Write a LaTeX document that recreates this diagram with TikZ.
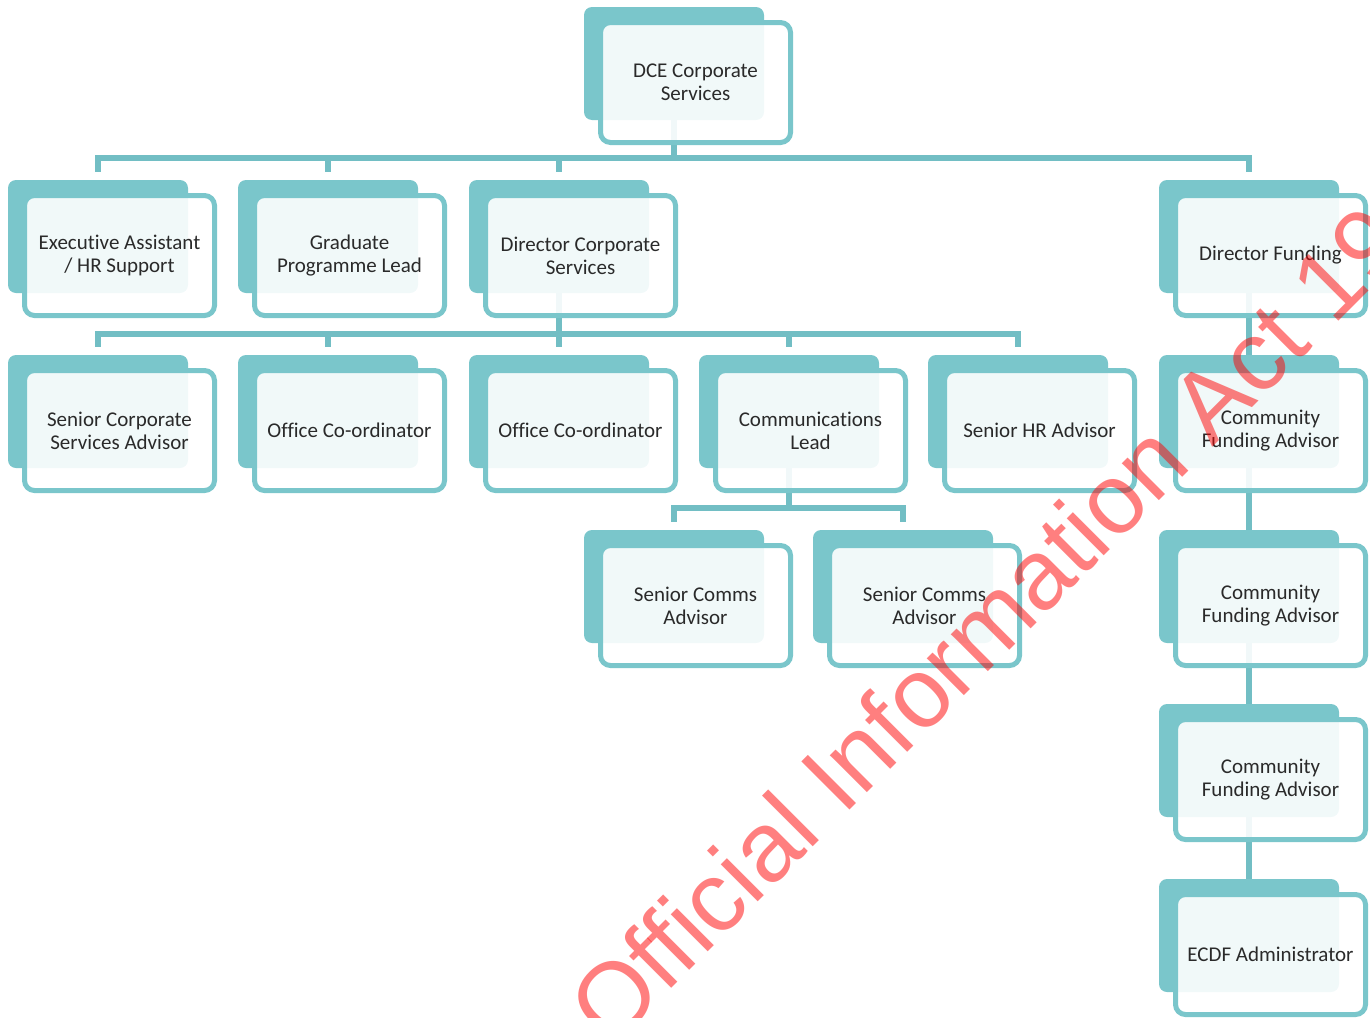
\documentclass[tikz,border=0pt]{standalone}
\usepackage{fontspec}
\setmainfont{Carlito}[Ligatures=NoCommon]
\newfontfamily\wmfont{Liberation Sans}
\usepackage{xcolor}
\usetikzlibrary{positioning,calc,backgrounds}
\definecolor{boxteal}{HTML}{7AC6CB}
\definecolor{linkteal}{HTML}{72BEC4}
\definecolor{boxtext}{HTML}{2A2A2A}

\begin{document}
\begin{tikzpicture}[
    x=1pt, y=-1pt,
    backbox/.style={rectangle, fill=boxteal, rounded corners=8pt, minimum width=180pt, minimum height=113pt, inner sep=0pt},
    rolebox/.style={rectangle, draw=boxteal, line width=5pt, rounded corners=10pt, fill=white, fill opacity=0.9, text opacity=1,
        minimum width=190pt, minimum height=120pt, inner sep=0pt, align=center, text=boxtext, font=\fontsize{21}{23}\selectfont},
    link/.style={draw=linkteal, line width=6pt},
    watermark/.style={text=red, text opacity=0.5, inner sep=0pt, font=\wmfont\fontsize{99}{99}\selectfont}
]
    \useasboundingbox (0,0) rectangle (1370,1017);
    \clip (0,0) rectangle (1370,1017);

    % top
    \node[backbox] (dceb) at (674,63.5) {};
    \node[rolebox] (dce) at (695.5,82.5) {DCE Corporate\\Services};

    % first level
    \node[backbox] (eab) at (98,236.5) {};
    \node[rolebox] (ea) at (119.5,255.5) {Executive Assistant\\/ HR Support};
    \node[backbox] (gplb) at (328,236.5) {};
    \node[rolebox] (gpl) at (349.5,255.5) {Graduate\\Programme Lead};
    \node[backbox] (dcsb) at (559,236.5) {};
    \node[rolebox] (dcs) at (580.5,255.5) {Director Corporate\\Services};
    \node[backbox] (dfub) at (1249,236.5) {};
    \node[rolebox] (dfu) at (1270.5,255.5) {Director Funding};

    % second level
    \node[backbox] (scsab) at (98,411.5) {};
    \node[rolebox] (scsa) at (119.5,430.5) {Senior Corporate\\Services Advisor};
    \node[backbox] (oc1b) at (328,411.5) {};
    \node[rolebox] (oc1) at (349.5,430.5) {Office Co-ordinator};
    \node[backbox] (oc2b) at (559,411.5) {};
    \node[rolebox] (oc2) at (580.5,430.5) {Office Co-ordinator};
    \node[backbox] (clb) at (789,411.5) {};
    \node[rolebox] (cl) at (810.5,430.5) {Communications\\Lead};
    \node[backbox] (shrb) at (1018,411.5) {};
    \node[rolebox] (shr) at (1039.5,430.5) {Senior HR Advisor};
    \node[backbox] (cfa1b) at (1249,411.5) {};
    \node[rolebox] (cfa1) at (1270.5,430.5) {Community\\Funding Advisor};

    % third level and below
    \node[backbox] (sca1b) at (674,586.5) {};
    \node[rolebox] (sca1) at (695.5,605.5) {Senior Comms\\Advisor};
    \node[backbox] (sca2b) at (903,586.5) {};
    \node[rolebox] (sca2) at (924.5,605.5) {Senior Comms\\Advisor};
    \node[backbox] (cfa2b) at (1249,586.5) {};
    \node[rolebox] (cfa2) at (1270.5,605.5) {Community\\Funding Advisor};
    \node[backbox] (cfa3b) at (1249,760.5) {};
    \node[rolebox] (cfa3) at (1270.5,779.5) {Community\\Funding Advisor};
    \node[backbox] (ecdfb) at (1249,935.5) {};
    \node[rolebox] (ecdf) at (1270.5,954.5) {ECDF Administrator};

    \coordinate (bus1) at (0,158);
    \coordinate (bus2) at (0,334);
    \coordinate (bus3) at (0,508);

    \begin{scope}[on background layer]
        \draw[link] (dceb) -- (dceb |- bus1) -| ([yshift=8pt]eab.north);
        \draw[link] (dceb |- bus1) -| ([yshift=8pt]gplb.north);
        \draw[link] (dceb |- bus1) -| ([yshift=8pt]dcsb.north);
        \draw[link] (dceb |- bus1) -| ([yshift=8pt]dfub.north);

        \draw[link] (dcsb) -- (dcsb |- bus2) -| ([yshift=8pt]scsab.north);
        \draw[link] (dcsb |- bus2) -| ([yshift=8pt]oc1b.north);
        \draw[link] (dcsb |- bus2) -- ([yshift=8pt]oc2b.north);
        \draw[link] (dcsb |- bus2) -| ([yshift=8pt]clb.north);
        \draw[link] (dcsb |- bus2) -| ([yshift=8pt]shrb.north);

        \draw[link] (clb) -- (clb |- bus3) -| ([yshift=8pt]sca1b.north);
        \draw[link] (clb |- bus3) -| ([yshift=8pt]sca2b.north);

        \draw[link] (dfub) -- (cfa1b);
        \draw[link] (cfa1b) -- (cfa2b);
        \draw[link] (cfa2b) -- (cfa3b);
        \draw[link] (cfa3b) -- (ecdfb);
    \end{scope}

    \node[watermark, anchor=base west, rotate=45] (oia) at (611,1049) {Official Information Act 19};
\end{tikzpicture}
\end{document}
